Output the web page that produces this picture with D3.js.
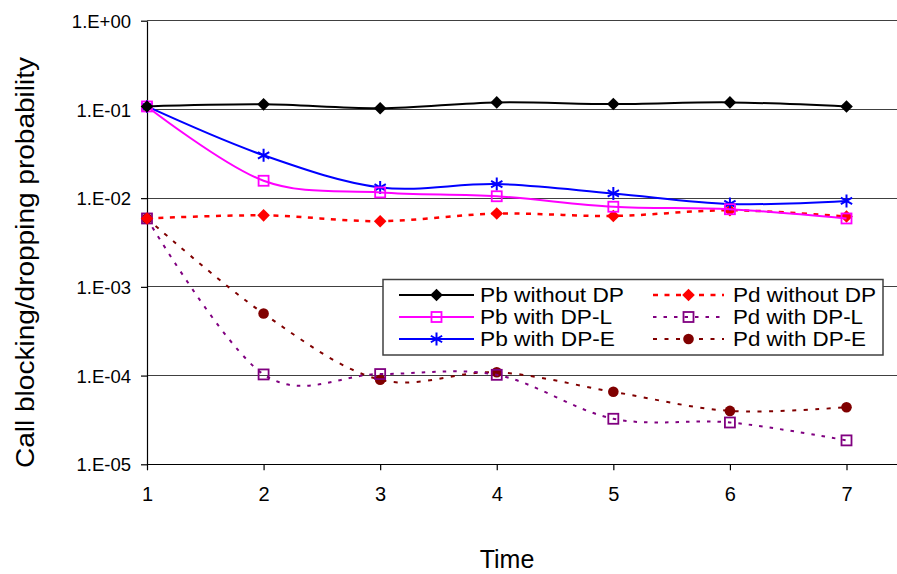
<!DOCTYPE html>
<html><head><meta charset="utf-8">
<script src="https://cdn.jsdelivr.net/npm/d3@7"></script>
<style>body{margin:0;background:#fff}svg{display:block;font-family:"Liberation Sans",Arial,sans-serif}</style>
</head><body><svg id="c" width="897" height="574"></svg>
<script>
const times = [1, 2, 3, 4, 5, 6, 7];
const yTickValues = [1, 1e-1, 1e-2, 1e-3, 1e-4, 1e-5];
const yTickLabels = ["1.E+00", "1.E-01", "1.E-02", "1.E-03", "1.E-04", "1.E-05"];
const seriesNames = ["Pb without DP", "Pb with DP-L", "Pb with DP-E", "Pd without DP", "Pd with DP-L", "Pd with DP-E"];
const pbWithoutDP = [0.108, 0.114, 0.103, 0.120, 0.115, 0.120, 0.108];
const pbWithDPL   = [0.108, 0.0157, 0.0116, 0.0105, 0.0080, 0.0075, 0.0059];
const pbWithDPE   = [0.108, 0.0304, 0.0132, 0.0144, 0.0113, 0.0086, 0.0093];
const pdWithoutDP = [0.0059, 0.0064, 0.0055, 0.0067, 0.0063, 0.0073, 0.0062];
const pdWithDPL   = [0.0059, 1.03e-4, 1.04e-4, 1.02e-4, 3.26e-5, 2.96e-5, 1.86e-5];
const pdWithDPE   = [0.0059, 5.0e-4, 8.97e-5, 1.09e-4, 6.56e-5, 4.0e-5, 4.4e-5];
const xTitle = "Time";
const yTitle = "Call blocking/dropping probability";

const series = [
  {name: seriesNames[0], values: pbWithoutDP, color: "#000000", width: 2, dash: null, marker: "diamond"},
  {name: seriesNames[1], values: pbWithDPL, color: "#ff00ff", width: 2, dash: null, marker: "square"},
  {name: seriesNames[2], values: pbWithDPE, color: "#0000ff", width: 2, dash: null, marker: "star"},
  {name: seriesNames[3], values: pdWithoutDP, color: "#ff0000", width: 2.5, dash: "5,6.5", marker: "diamond"},
  {name: seriesNames[4], values: pdWithDPL, color: "#800080", width: 2, dash: "3.5,7", marker: "square"},
  {name: seriesNames[5], values: pdWithDPE, color: "#800000", width: 2, dash: "4,7.5", marker: "circle"}
];
const legendWidths = [144, 132, 135, 143, 130, 133];

const svg = d3.select("#c");
const x = d3.scaleLinear().domain([1, 7]).range([147, 846.5]);
const y = d3.scaleLog().domain([1e-5, 1]).range([464.3, 20.7]);
const plotRight = 897;

// gridlines
svg.append("g").selectAll("line").data(yTickValues).join("line")
  .attr("x1", 147).attr("x2", plotRight)
  .attr("y1", d => y(d)).attr("y2", d => y(d))
  .attr("stroke", d => d === 1e-5 ? "#000" : "#404040").attr("stroke-width", 1.2)
  .attr("shape-rendering", "crispEdges");

// y axis
const yAxis = d3.axisLeft(y).tickValues(yTickValues).tickSize(6).tickSizeOuter(0)
  .tickFormat((d, i) => yTickLabels[i]);
const gy = svg.append("g").attr("transform", "translate(147,0)").call(yAxis);
gy.select(".domain").attr("stroke", "#000").attr("stroke-width", 1.2);
gy.selectAll(".tick line").attr("stroke", "#000").attr("stroke-width", 1.2);
gy.selectAll(".tick text").attr("font-size", 18.5).attr("fill", "#000")
  .attr("font-family", "Liberation Sans, Arial, sans-serif").attr("x", -16).attr("dy", "0.36em");

// x axis
const xAxis = d3.axisBottom(x).tickValues(times).tickSize(6).tickSizeOuter(0).tickFormat(d3.format("d"));
const gx = svg.append("g").attr("transform", "translate(0,464.3)").call(xAxis);
gx.select(".domain").remove();
gx.selectAll(".tick line").attr("stroke", "#000").attr("stroke-width", 1.2);
gx.selectAll(".tick text").attr("font-size", 20).attr("fill", "#000")
  .attr("font-family", "Liberation Sans, Arial, sans-serif").attr("y", 23).attr("dy", "0.71em");

// titles
svg.append("text").attr("x", 507).attr("y", 568).attr("text-anchor", "middle")
  .attr("font-size", 25).text(xTitle);
svg.append("text").attr("transform", "translate(34,262.5) rotate(-90)").attr("text-anchor", "middle")
  .attr("font-size", 26).attr("textLength", 411).attr("lengthAdjust", "spacingAndGlyphs").text(yTitle);

const line = d3.line().x((d, i) => x(times[i])).y(d => y(d)).curve(d3.curveCardinal.tension(0));

function drawMarker(g, type, color, cx, cy) {
  if (type === "diamond") {
    g.append("path").attr("d", `M${cx},${cy-6.3}L${cx+6.3},${cy}L${cx},${cy+6.3}L${cx-6.3},${cy}Z`).attr("fill", color);
  } else if (type === "square") {
    g.append("rect").attr("x", cx-5).attr("y", cy-5).attr("width", 10).attr("height", 10)
      .attr("fill", "none").attr("stroke", color).attr("stroke-width", 1.8);
  } else if (type === "star") {
    const r = 6.5;
    g.append("path").attr("d",
      `M${cx},${cy-r}L${cx},${cy+r}M${cx-r*0.87},${cy-r*0.5}L${cx+r*0.87},${cy+r*0.5}M${cx-r*0.87},${cy+r*0.5}L${cx+r*0.87},${cy-r*0.5}`)
      .attr("stroke", color).attr("stroke-width", 2).attr("fill", "none");
  } else if (type === "circle") {
    g.append("circle").attr("cx", cx).attr("cy", cy).attr("r", 5.3).attr("fill", color);
  }
}

// draw in reverse order so first series ends on top
const order = [5, 4, 3, 2, 1, 0];
order.forEach(k => {
  const s = series[k];
  const g = svg.append("g");
  g.append("path").attr("d", line(s.values)).attr("fill", "none")
    .attr("stroke", s.color).attr("stroke-width", s.width)
    .attr("stroke-dasharray", s.dash);
  s.values.forEach((v, i) => drawMarker(g, s.marker, s.color, x(times[i]), y(v)));
});

// legend
const lg = svg.append("g");
lg.append("rect").attr("x", 383).attr("y", 279.5).attr("width", 500).attr("height", 75.5)
  .attr("fill", "#fff").attr("stroke", "#404040").attr("stroke-width", 1.5);
const rowsY = [295, 317, 339];
series.forEach((s, k) => {
  const col = Math.floor(k / 3), row = k % 3;
  const ly = rowsY[row];
  const x0 = col === 0 ? 399 : 653, x1 = col === 0 ? 474 : 724, tx = col === 0 ? 480 : 733;
  lg.append("line").attr("x1", x0).attr("x2", x1).attr("y1", ly).attr("y2", ly)
    .attr("stroke", s.color).attr("stroke-width", s.width).attr("stroke-dasharray", s.dash);
  drawMarker(lg, s.marker, s.color, (x0 + x1) / 2, ly);
  lg.append("text").attr("x", tx).attr("y", ly + 7.3).attr("font-size", 19.5).attr("fill", "#000")
    .attr("textLength", legendWidths[k]).attr("lengthAdjust", "spacingAndGlyphs").text(s.name);
});
</script></body></html>
